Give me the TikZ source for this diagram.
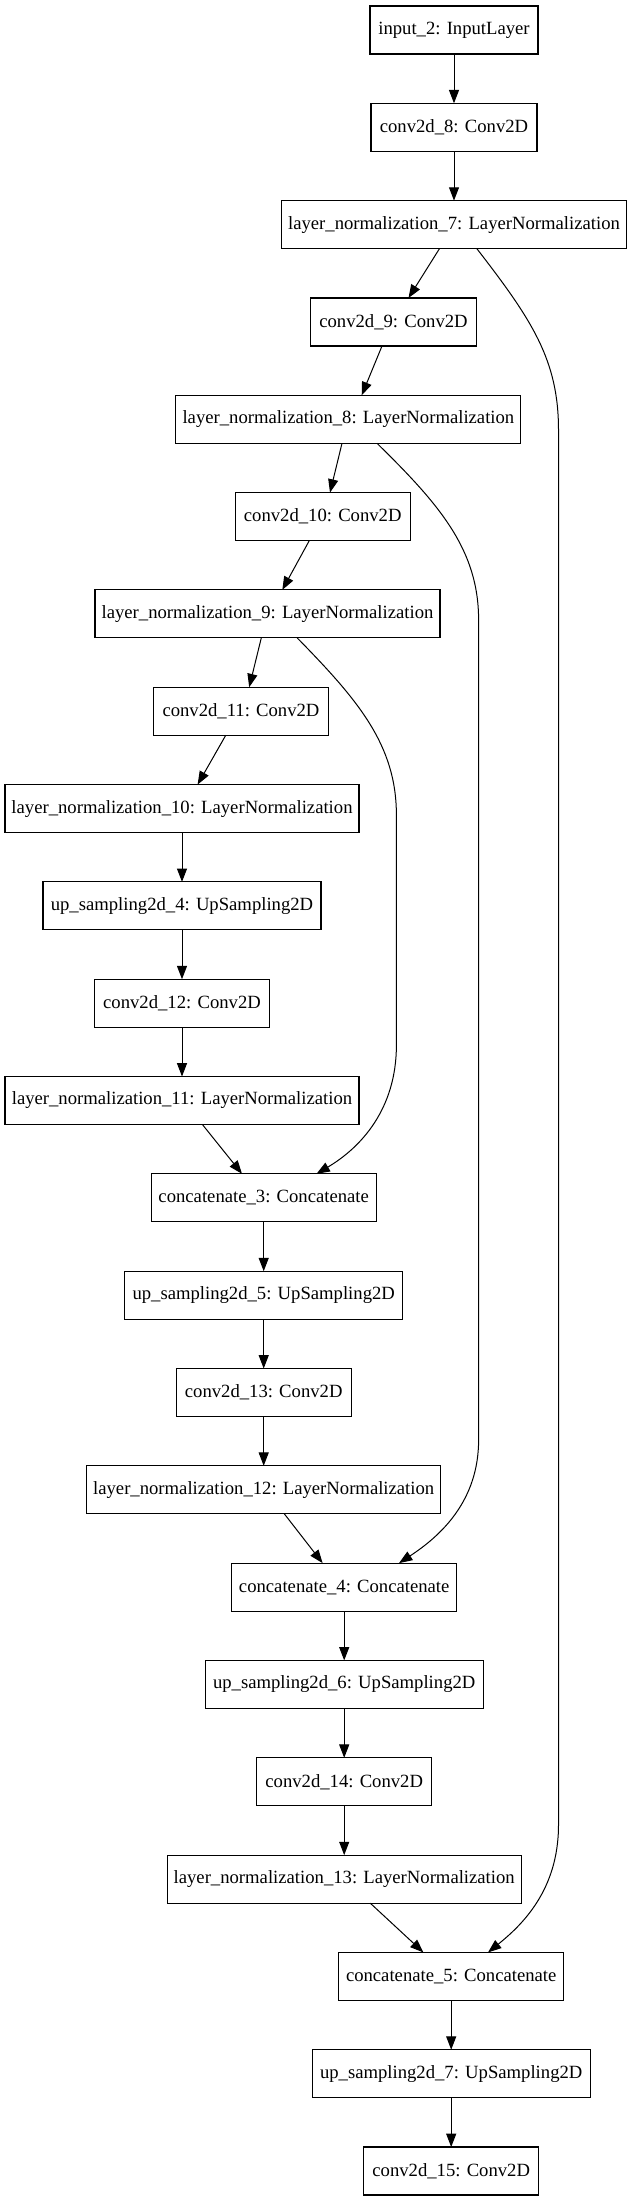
\documentclass[tikz,border=0pt]{standalone}
\usepackage{fontspec}
\setmainfont{Liberation Serif}
\usetikzlibrary{arrows.meta,calc}
\begin{document}
\begin{tikzpicture}[x=0.75pt,y=-0.75pt,
  layer/.style={draw=black,line width=0.8pt,rectangle,inner sep=0pt,outer sep=0pt,
    minimum height=36pt,font=\fontsize{14pt}{16pt}\selectfont},
  convw/.style={layer,minimum width=124.5pt},
  convww/.style={layer,minimum width=131.25pt},
  inw/.style={layer,minimum width=126pt},
  lnw/.style={layer,minimum width=258.75pt},
  lnww/.style={layer,minimum width=265.5pt},
  upw/.style={layer,minimum width=208.5pt},
  catw/.style={layer,minimum width=168.75pt},
  edge/.style={line width=0.75pt,-{Triangle[length=10pt,width=7.5pt]}}]
\useasboundingbox (0,0) rectangle (629,2201);
\node[inw]   (in)  at (454,30)     {input\_2: InputLayer};
\node[convw] (c8)  at (454,127.3)  {conv2d\_8: Conv2D};
\node[lnw]   (l7)  at (454,224.6)  {layer\_normalization\_7: LayerNormalization};
\node[convw] (c9)  at (393.5,322)  {conv2d\_9: Conv2D};
\node[lnw]   (l8)  at (348.4,419.3){layer\_normalization\_8: LayerNormalization};
\node[convww](c10) at (322.7,516.6){conv2d\_10: Conv2D};
\node[lnw]   (l9)  at (267.5,613.9){layer\_normalization\_9: LayerNormalization};
\node[convww](c11) at (241,711.2)  {conv2d\_11: Conv2D};
\node[lnww]  (l10) at (182,808.6)  {layer\_normalization\_10: LayerNormalization};
\node[upw]   (u4)  at (182,905.9)  {up\_sampling2d\_4: UpSampling2D};
\node[convww](c12) at (182,1003.2) {conv2d\_12: Conv2D};
\node[lnww]  (l11) at (182,1100.5) {layer\_normalization\_11: LayerNormalization};
\node[catw]  (k3)  at (263.7,1197.8){concatenate\_3: Concatenate};
\node[upw]   (u5)  at (263.7,1295.2){up\_sampling2d\_5: UpSampling2D};
\node[convww](c13) at (263.7,1392.5){conv2d\_13: Conv2D};
\node[lnww]  (l12) at (263.7,1489.8){layer\_normalization\_12: LayerNormalization};
\node[catw]  (k4)  at (344.2,1587.1){concatenate\_4: Concatenate};
\node[upw]   (u6)  at (344.2,1684.4){up\_sampling2d\_6: UpSampling2D};
\node[convww](c14) at (344.2,1781.8){conv2d\_14: Conv2D};
\node[lnww]  (l13) at (344.2,1879.1){layer\_normalization\_13: LayerNormalization};
\node[catw]  (k5)  at (451.2,1976.4){concatenate\_5: Concatenate};
\node[upw]   (u7)  at (451.2,2073.7){up\_sampling2d\_7: UpSampling2D};
\node[convww](c15) at (451.2,2171)  {conv2d\_15: Conv2D};
% straight edges
\draw[edge] (in) -- (c8);
\draw[edge] (c8) -- (l7);
\draw[edge] ($(l7.south)+(-14.5,0)$) -- ($(c9.north)+(15,0)$);
\draw[edge] ($(c9.south)+(-11.5,0)$) -- ($(l8.north)+(13.3,0)$);
\draw[edge] ($(l8.south)+(-6.4,0)$) -- ($(c10.north)+(7.3,0)$);
\draw[edge] ($(c10.south)+(-13.4,0)$) -- ($(l9.north)+(14.8,0)$);
\draw[edge] ($(l9.south)+(-6.2,0)$) -- ($(c11.north)+(8.2,0)$);
\draw[edge] ($(c11.south)+(-15.2,0)$) -- ($(l10.north)+(15.6,0)$);
\draw[edge] (l10) -- (u4);
\draw[edge] (u4) -- (c12);
\draw[edge] (c12) -- (l11);
\draw[edge] ($(l11.south)+(20.4,0)$) -- ($(k3.north)+(-21.7,0)$);
\draw[edge] (k3) -- (u5);
\draw[edge] (u5) -- (c13);
\draw[edge] (c13) -- (l12);
\draw[edge] ($(l12.south)+(20.6,0)$) -- ($(k4.north)+(-21.6,0)$);
\draw[edge] (k4) -- (u6);
\draw[edge] (u6) -- (c14);
\draw[edge] (c14) -- (l13);
\draw[edge] ($(l13.south)+(26,0)$) -- ($(k5.north)+(-27.8,0)$);
\draw[edge] (k5) -- (u7);
\draw[edge] (u7) -- (c15);
% skip connections
\draw[edge] ($(l7.south)+(22.8,0)$) .. controls (532,320) and (558.5,360) .. (558.5,430)
  -- (558.5,1825) .. controls (558.5,1890) and (522,1925) .. ($(k5.north)+(36.8,0)$);
\draw[edge] ($(l8.south)+(28.6,0)$) .. controls (440,505) and (478.6,550) .. (478.6,620)
  -- (478.6,1440) .. controls (478.6,1500) and (442,1535) .. ($(k4.north)+(54.8,0)$);
\draw[edge] ($(l9.south)+(29.7,0)$) .. controls (358,700) and (396.4,745) .. (396.4,815)
  -- (396.4,1045) .. controls (396.4,1110) and (360,1148) .. ($(k3.north)+(52.8,0)$);
\end{tikzpicture}
\end{document}
